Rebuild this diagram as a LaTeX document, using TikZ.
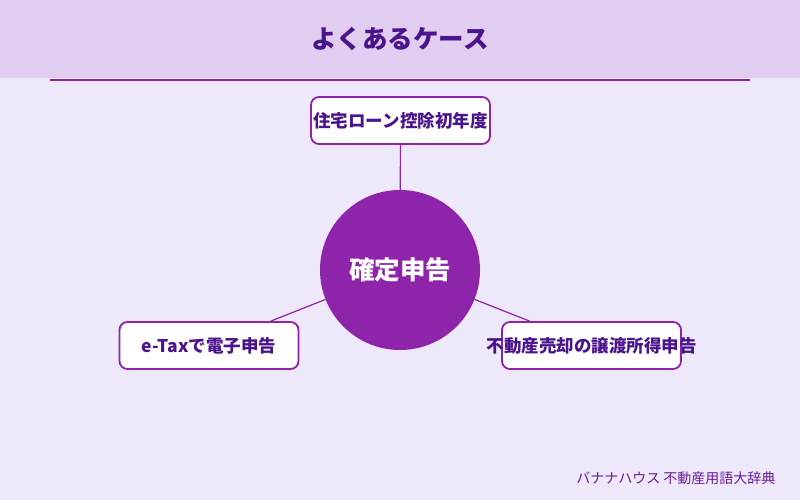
\documentclass[tikz,border=0pt]{standalone}
\usepackage{fontspec}
\setmainfont{Noto Sans CJK JP}
\usetikzlibrary{positioning}
\definecolor{pagebg}{HTML}{EEE8FB}
\definecolor{bandbg}{HTML}{E1CDF0}
\definecolor{accent}{HTML}{8E24AA}
\definecolor{inkdark}{HTML}{4A148C}
\definecolor{footink}{HTML}{6A1B9A}
\tikzset{
  link/.style={draw=accent, line width=1.2pt},
  hub/.style={circle, fill=accent, minimum size=160pt, inner sep=0pt, text=white, font=\fontsize{25.5}{30}\selectfont\bfseries},
  casebox/.style={draw=accent, line width=1.8pt, rounded corners=8pt, fill=white, minimum width=179pt, minimum height=47pt, inner sep=0pt, text=inkdark, font=\fontsize{17.5}{21}\selectfont\bfseries},
  titletext/.style={text=inkdark, font=\fontsize{25.5}{30}\selectfont\bfseries},
  foottext/.style={text=footink, anchor=east, font=\fontsize{14}{17}\selectfont}
}

\begin{document}
\begin{tikzpicture}[x=1pt, y=-1pt]
  % page and header band
  \fill[pagebg] (0,0) rectangle (800,500);
  \fill[bandbg] (0,0) rectangle (800,78);
  \useasboundingbox (0,0) rectangle (800,500);
  \coordinate (ruleL) at (50,80);
  \coordinate (ruleR) at (750,80);
  \draw[accent, line width=2pt] (ruleL) -- (ruleR);
  \node[titletext] (title) at (400,39) {よくあるケース};

  \node[hub] (hub) at (400,270) {確定申告};
  \node[casebox] (loan) at (400.5,120.5) {住宅ローン控除初年度};
  \node[casebox] (etax) at (209,345.5) {e-Taxで電子申告};
  \node[casebox] (sale) at (591.5,345.5) {\makebox[0pt][c]{不動産売却の譲渡所得申告}};

  \draw[link] (hub) -- (loan);
  \draw[link] (hub) -- (etax);
  \draw[link] (hub) -- (sale);

  \node[foottext] (credit) at (779,478) {バナナハウス 不動産用語大辞典};
\end{tikzpicture}
\end{document}
